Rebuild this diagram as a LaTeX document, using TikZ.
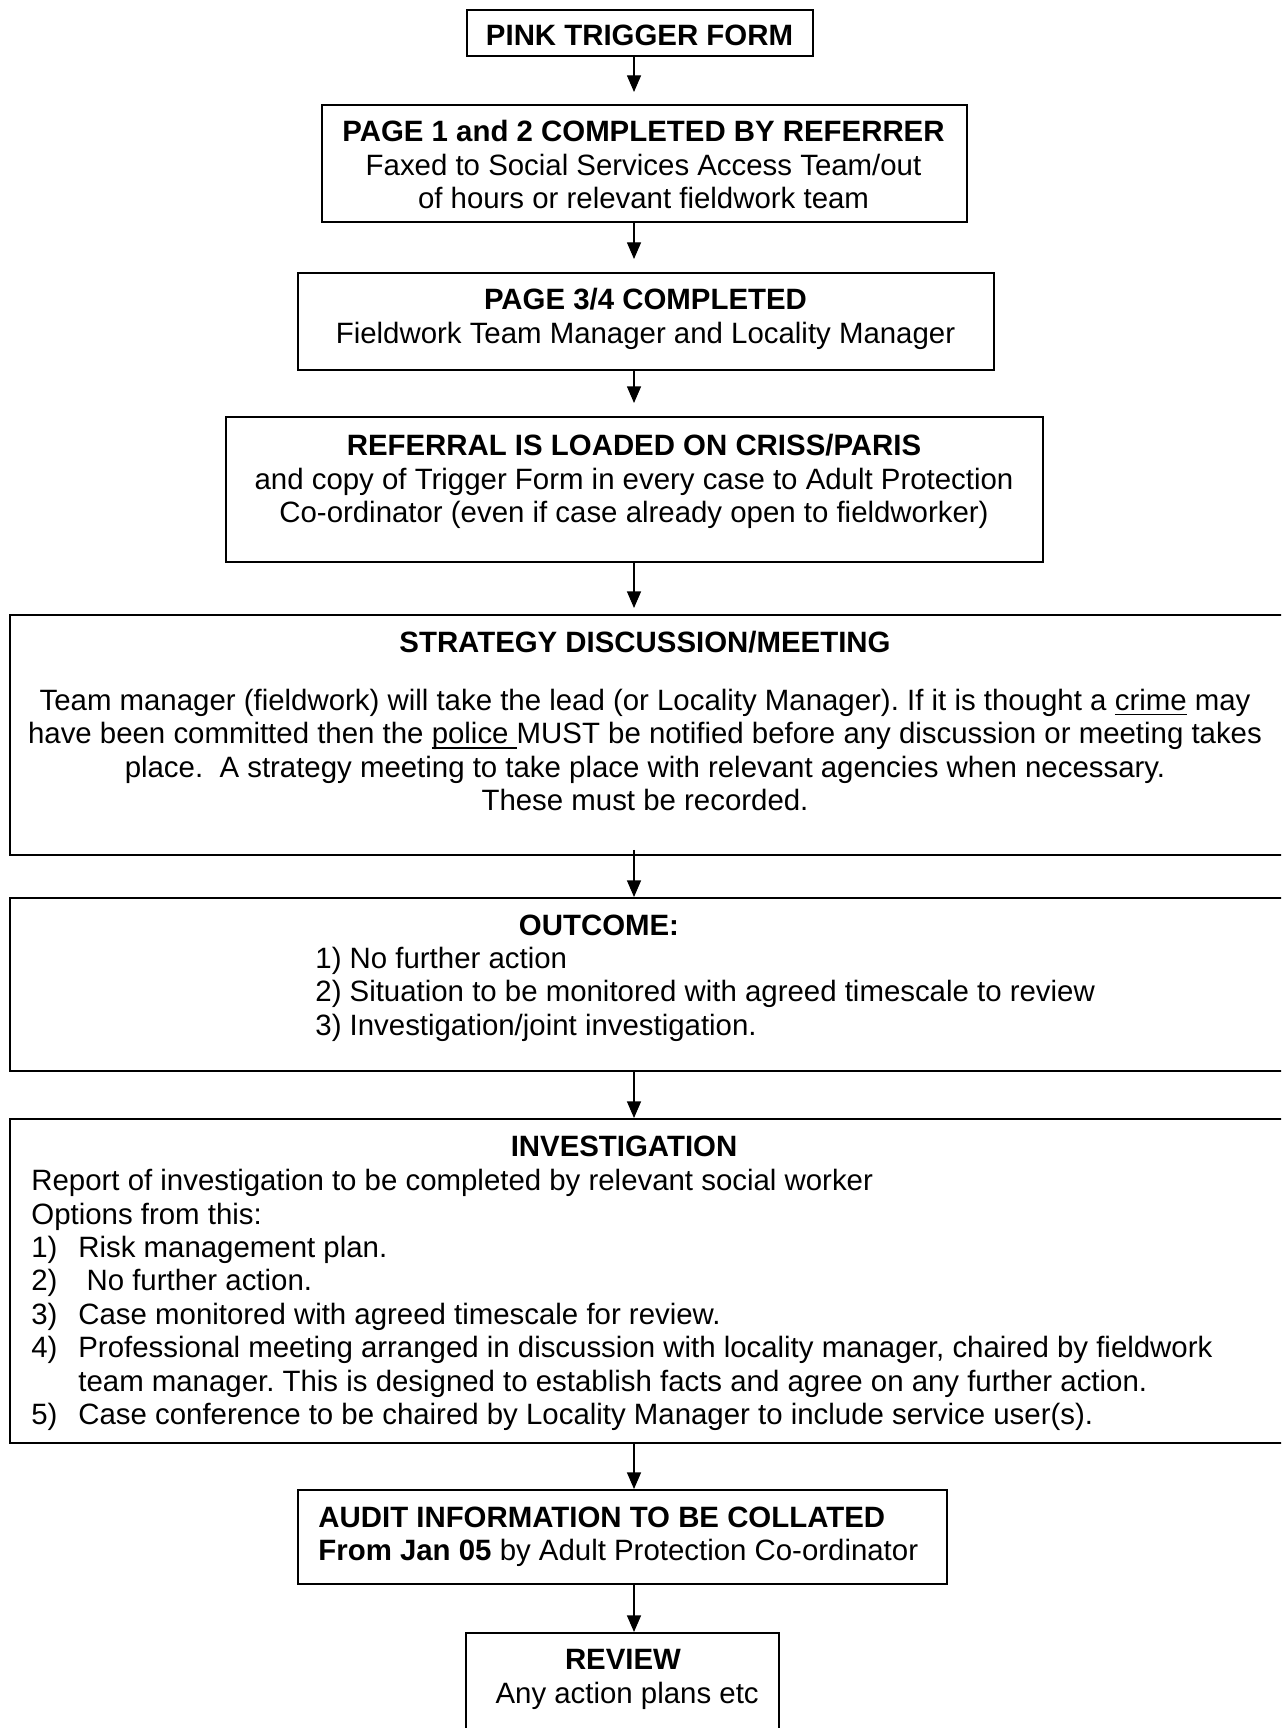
\documentclass[tikz,border=0pt]{standalone}
\usepackage{fontspec}
\setmainfont{Liberation Sans}
\usetikzlibrary{arrows.meta}
\frenchspacing
\newcommand\ulin[1]{\setbox0=\hbox{#1}\rlap{\vrule height -1.6pt depth 2.3pt width \wd0}\box0\relax}
\newcommand\nb[1]{\makebox[23.5pt][l]{#1}}
\tikzset{
  box/.style={draw, line width=0.9pt, inner sep=0pt, anchor=north west},
  txt/.style={inner sep=0pt, font=\fontsize{14.7}{16.7}\selectfont},
  arr/.style={-{Triangle[length=8.3pt,width=7pt]}, line width=0.6pt},
}
\begin{document}
\begin{tikzpicture}[x=0.5pt,y=-0.5pt]
\useasboundingbox (0,0) rectangle (1281,1728);
\clip (0,0) rectangle (1281,1728);
\coordinate (ax) at (634,0);
% boxes
\node[box, minimum width=173pt, minimum height=23pt] (b1) at (466,9) {};
\node[box, minimum width=322.5pt, minimum height=58.5pt] (b2) at (321,104) {};
\node[box, minimum width=348pt, minimum height=48.5pt] (b3) at (297,272) {};
\node[box, minimum width=408.5pt, minimum height=72.5pt] (b4) at (225,416) {};
\node[box, minimum width=643pt, minimum height=120pt] (b5) at (9,614) {};
\node[box, minimum width=643pt, minimum height=86.5pt] (b6) at (9,897) {};
\node[box, minimum width=643pt, minimum height=162pt] (b7) at (9,1118) {};
\node[box, minimum width=324.5pt, minimum height=47pt] (b8) at (297,1489) {};
\node[box, minimum width=156.5pt, minimum height=55pt] (b9) at (465,1632) {};
% texts (anchor base = baseline of the last line)
\node[txt, anchor=base] (t1) at (639.5,45.5) {\bfseries PINK TRIGGER FORM};
\node[txt, align=center, anchor=base] (t2) at (643.5,208.5)
  {\textbf{PAGE 1 and 2 COMPLETED BY REFERRER}\\Faxed to Social Services Access Team/out\\of hours or relevant fieldwork team};
\node[txt, align=center, anchor=base] (t3) at (645.5,343.3)
  {\textbf{PAGE 3/4 COMPLETED}\\Fieldwork Team Manager and Locality Manager};
\node[txt, align=center, anchor=base] (t4) at (634,522.7)
  {\textbf{REFERRAL IS LOADED ON CRISS/PARIS}\\and copy of Trigger Form in every case to Adult Protection\\Co-ordinator (even if case already open to fieldworker)};
\node[txt, align=center, anchor=base] (t5) at (645,810.7)
  {\textbf{STRATEGY DISCUSSION/MEETING}\\[12.5pt]Team manager (fieldwork) will take the lead (or Locality Manager). If it is thought a \ulin{crime} may\\have been committed then the \ulin{police\ }MUST be notified before any discussion or meeting takes\\place.\ \ A strategy meeting to take place with relevant agencies when necessary.\\These must be recorded.};
\node[txt, anchor=base] (t6a) at (599,935) {\bfseries OUTCOME:};
\node[txt, align=left, anchor=base west] (t6b) at (315,1035)
  {1) No further action\\2) Situation to be monitored with agreed timescale to review\\3) Investigation/joint investigation.};
\node[txt, anchor=base] (t7a) at (624,1156) {\bfseries INVESTIGATION};
\node[txt, align=left, anchor=base west] (t7b) at (31,1424.5)
  {Report of investigation to be completed by relevant social worker\\
   Options from this:\\
   \nb{1)}Risk management plan.\\
   \nb{2)}\ No further action.\\
   \nb{3)}Case monitored with agreed timescale for review.\\
   \nb{4)}Professional meeting arranged in discussion with locality manager, chaired by fieldwork\\
   \hspace*{23.5pt}team manager. This is designed to establish facts and agree on any further action.\\
   \nb{5)}Case conference to be chaired by Locality Manager to include service user(s).};
\node[txt, align=left, anchor=base west] (t8) at (318,1560.7)
  {\textbf{AUDIT INFORMATION TO BE COLLATED}\\\textbf{From Jan 05} by Adult Protection Co-ordinator};
\node[txt, align=center, anchor=base] (t9) at (623,1703.3)
  {\textbf{REVIEW}\\\hspace*{0.28em}Any action plans etc};
% arrows
\draw[arr, shorten >=6pt] (b1.south -| ax) -- (b2.north -| ax);
\draw[arr, shorten >=6.5pt] (b2.south -| ax) -- (b3.north -| ax);
\draw[arr, shorten >=6.5pt] (b3.south -| ax) -- (b4.north -| ax);
\draw[arr, shorten >=3pt] (b4.south -| ax) -- (b5.north -| ax);
\draw[arr, shorten <=-3pt] (b5.south -| ax) -- (b6.north -| ax);
\draw[arr] (b6.south -| ax) -- (b7.north -| ax);
\draw[arr] (b7.south -| ax) -- (b8.north -| ax);
\draw[arr] (b8.south -| ax) -- (b9.north -| ax);
\end{tikzpicture}
\end{document}
